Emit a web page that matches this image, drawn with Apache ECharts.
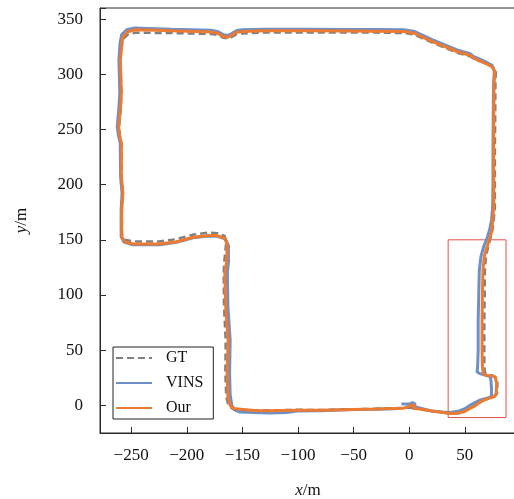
<!DOCTYPE html>
<html>
<head>
<meta charset="utf-8">
<script src="https://cdn.jsdelivr.net/npm/echarts@6/dist/echarts.min.js"></script>
<style>html,body{margin:0;padding:0;background:#fff;}#c{width:514px;height:499px;}</style>
</head>
<body>
<div id="c"></div>
<script>
const xTicks = [-250, -200, -150, -100, -50, 0, 50];
const yTicks = [0, 50, 100, 150, 200, 250, 300, 350];
const seriesNames = ['GT', 'VINS', 'Our'];
const zoomBox = [[35, -11], [87, 150]];
const xMin = -278, xMax = 96, yMin = -25, yMax = 360;

const gtPath = [[0,-2],[8,-3.2],[19,-5],[30,-6.5],[37,-7.5],[45,-7],[50,-5.5],[56,-2],[62,2],[67,4.5],[73,6.8],[77,8],[79,11],[79.3,20],[78,25.5],[75,27],[70,27.5],[68,30],[67.5,35],[67.5,50],[67.5,77],[67.8,100],[68,122],[69,135],[71,144],[73.5,153],[75,160],[76,168],[77,180],[77,200],[77,230],[77.3,260],[77.5,290],[77.8,302],[75.5,306.5],[67,310.5],[58,314],[55,316],[43,319.5],[20,329],[4,336],[-5,337.3],[-30,337.7],[-60,337.8],[-90,337.8],[-130,337.8],[-150,337],[-155,336.3],[-160,333.5],[-163,332.5],[-167,333],[-172,335.5],[-178,336.5],[-214,337.3],[-235,337.5],[-247,337.5],[-253,336],[-257,332],[-258.3,326],[-259.7,313],[-258.8,283],[-259.3,270],[-260.8,252.6],[-260.2,245],[-258.8,237.5],[-258.6,207.3],[-257.6,192.2],[-258.3,177],[-258.3,155],[-256,150],[-248,148.5],[-225,148.5],[-210,150.5],[-195,154.5],[-181,156.5],[-172,156],[-166,153.5],[-164.5,148],[-166.3,130],[-166.8,119.7],[-166.5,89.4],[-165,59.2],[-165.3,29],[-164.5,7.8],[-162.5,0],[-159.5,-2.5],[-157,-4],[-140,-4.3],[-125,-4.5],[-101,-4],[-80,-4.2],[-50,-3.5],[-30,-3],[-14,-2.6],[-5,-2.3],[0,-2]];

const vinsPath = [[-7,1.2],[0,1.2],[3,2.5],[5.5,1],[4,-1],[2,0],[6,-1.5],[12,-3],[20,-5],[30,-6],[37,-6.5],[45,-5],[50,-3],[55,0.3],[60,3],[64,5],[70,6.5],[73.9,7.8],[74,15],[73.5,22],[73,26],[68,27.5],[63,29],[61,30.5],[61.5,35],[62,50],[62,77],[62.5,100],[63,122],[64.5,135],[67,144],[70.5,153],[72.5,160],[74,168],[75,180],[75.3,200],[75.3,230],[75.5,260],[75.8,290],[76.5,303],[74.5,308],[66,312.5],[58,316],[55,318.5],[43,322],[20,331.5],[4,339],[-5,340.3],[-30,340.5],[-60,340.6],[-90,340.7],[-130,340.8],[-150,340.3],[-155,339.6],[-160,336.6],[-163,335.2],[-167,335.8],[-172,338.6],[-178,339.8],[-214,340.8],[-235,341.5],[-247,341.8],[-254,340.3],[-258.5,336],[-260,328],[-261,313],[-260.2,283],[-261,270],[-262.5,252.6],[-261.5,245],[-259.8,237.5],[-259.5,207.3],[-258.2,192.2],[-259,177],[-259,153],[-256.5,148],[-248.5,145.5],[-224.3,145.5],[-209.3,147.8],[-194.3,151.8],[-180,153.5],[-173.2,153.3],[-165.5,151],[-162.5,145],[-162.5,130],[-163.5,119.7],[-163,89.4],[-161,59.2],[-161.5,29],[-161,10],[-159.5,0],[-157,-4],[-152,-6],[-140,-6.5],[-125.2,-6.8],[-110,-6.5],[-101,-5],[-80,-4.8],[-50,-3.8],[-30,-3.5],[-14,-3],[-8,-2.5]];

const ourPath = [[-2,-1.5],[2,0.5],[5,-0.5],[3,-2.5],[8,-3],[19,-4.9],[30,-6.5],[37,-7.3],[45,-6.8],[49,-5.8],[55,-2.5],[58,-1.2],[63,2.5],[67,4.8],[73,7],[76,7.8],[78.2,11],[78.6,20],[77.5,25],[75,26.8],[69,27.2],[66.5,29],[65.8,35],[65.5,50],[65.5,77],[65.8,100],[66.3,122],[67.5,135],[70,144],[73,153],[74.5,160],[75,168],[76,180],[76,200],[75.8,230],[76,260],[76.2,290],[76.8,302.5],[74.5,307],[66,311],[57.9,314.6],[55,317],[43,320.6],[20,330],[4,337.3],[-5,338.7],[-30,339],[-60,339.2],[-90,339.3],[-130,339.3],[-150,338.6],[-155.2,338],[-160,335],[-163,333.6],[-167.3,334.2],[-172,337],[-177.7,338.2],[-213.8,339.3],[-235,340],[-246.8,340.3],[-253,338.5],[-257.4,334],[-258.3,328],[-259.7,313],[-258.8,283],[-259.5,270],[-261.3,252.6],[-260.5,245],[-258.8,237.5],[-258.8,207.3],[-257.4,192.2],[-258.5,177],[-258.5,153],[-255.9,148.3],[-248.4,146.2],[-224.3,146.2],[-209.3,148.3],[-194.3,152.3],[-180,154],[-173.2,153.8],[-165.8,151.4],[-163.5,145.3],[-164.2,130],[-165.8,119.7],[-165,89.4],[-162.8,59.2],[-163.7,29],[-163,7.8],[-161,0],[-158.3,-2.7],[-156.8,-4.3],[-140,-4.7],[-125.2,-4.9],[-101.2,-4.3],[-80.2,-4.5],[-50.2,-3.7],[-30,-3.3],[-14.1,-2.8],[-5,-2.5],[-2,-1.5]];

const FONT = 'Liberation Serif';
const fmt = v => String(v).replace('-', '\u2212');
const nameStyle = {fontFamily: FONT, fontSize: 17, color: '#111', rich: {i: {fontFamily: FONT, fontSize: 17, fontStyle: 'italic', color: '#111'}}};

const chart = echarts.init(document.getElementById('c'), null, {renderer: 'canvas'});
chart.setOption({
  animation: false,
  backgroundColor: '#fff',
  grid: {left: 100, top: 8, width: 416, height: 425, outerBoundsMode: 'none', containLabel: false,
         show: true, borderColor: '#2b2b2b', borderWidth: 1, backgroundColor: 'transparent'},
  xAxis: {
    type: 'value', min: xMin, max: xMax, minInterval: 50, maxInterval: 50,
    name: '{i|x}/m', nameLocation: 'middle', nameGap: 49,
    nameTextStyle: nameStyle,
    axisLine: {show: true, onZero: false, lineStyle: {color: '#2b2b2b', width: 1}},
    axisTick: {show: true, inside: true, length: 6, lineStyle: {color: '#2b2b2b', width: 1}},
    axisLabel: {customValues: xTicks, formatter: fmt, fontFamily: FONT, fontSize: 17, color: '#111', margin: 14},
    splitLine: {show: false}
  },
  yAxis: {
    type: 'value', min: yMin, max: yMax, minInterval: 50, maxInterval: 50,
    name: '{i|y}/m', nameLocation: 'middle', nameGap: 70,
    nameTextStyle: nameStyle,
    axisLine: {show: true, onZero: false, lineStyle: {color: '#2b2b2b', width: 1}},
    axisTick: {show: true, inside: true, length: 6, lineStyle: {color: '#2b2b2b', width: 1}},
    axisLabel: {customValues: yTicks, formatter: fmt, fontFamily: FONT, fontSize: 17, color: '#111', margin: 17},
    splitLine: {show: false}
  },
  legend: {
    data: seriesNames,
    orient: 'vertical', left: 113, top: 347,
    backgroundColor: '#fff', borderColor: '#222', borderWidth: 1, borderRadius: 0,
    padding: [3, 10, 3, 2],
    itemWidth: 36, itemHeight: 14, itemGap: 9,
    itemStyle: {opacity: 0},
    lineStyle: {opacity: 1},
    textStyle: {fontFamily: FONT, fontSize: 16, color: '#111', lineHeight: 16, padding: [0, 0, 0, 9]}
  },
  series: [
    {name: 'VINS', type: 'line', data: vinsPath, showSymbol: false, symbol: 'none', z: 2,
     lineStyle: {color: '#6E8FC8', width: 3}, itemStyle: {color: '#6E8FC8'}},
    {name: 'GT', type: 'line', data: gtPath, showSymbol: false, symbol: 'none', z: 3,
     lineStyle: {color: '#808080', width: 2.5, type: [7, 4]}, itemStyle: {color: '#808080'}},
    {name: 'Our', type: 'line', data: ourPath, showSymbol: false, symbol: 'none', z: 4,
     lineStyle: {color: '#EC7A30', width: 3}, itemStyle: {color: '#EC7A30'},
     markArea: {silent: true, itemStyle: {color: 'rgba(0,0,0,0)', borderColor: '#E2524C', borderWidth: 1},
       data: [[{coord: zoomBox[0]}, {coord: zoomBox[1]}]]},
     markLine: {silent: true, symbol: 'none', label: {show: false},
       lineStyle: {color: '#2b2b2b', width: 1, type: 'solid'}, emphasis: {disabled: true},
       data: yTicks.map(v => [{coord: [xMin, v]}, {coord: [xMin + 5.4, v]}])}}
  ]
});
</script>
</body>
</html>
